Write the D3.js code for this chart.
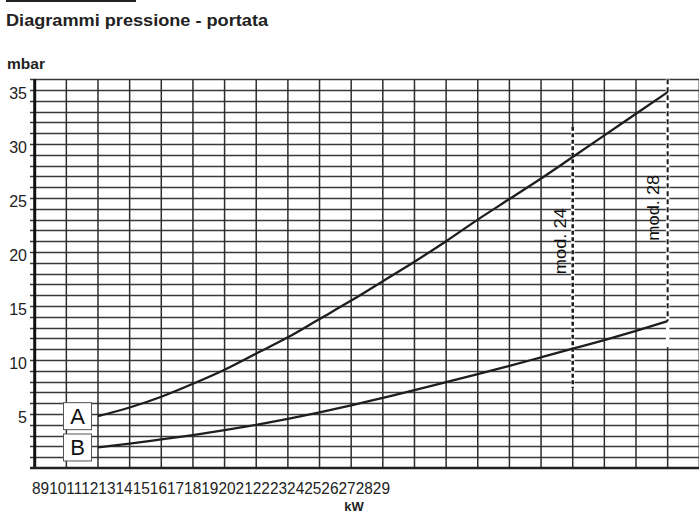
<!DOCTYPE html>
<html>
<head>
<meta charset="utf-8">
<script src="https://cdn.jsdelivr.net/npm/d3@7"></script>
<style>
  body { margin: 0; background: #fff; }
  svg { display: block; font-family: "Liberation Sans", Arial, sans-serif; }
</style>
</head>
<body>
<div id="chart"></div>
<script>
// data
var kw = [10, 11, 12, 13, 14, 15, 16, 17, 18, 19, 20, 21, 22, 23, 24, 25, 26, 27, 28];
var curveA = [4.8, 5.6, 6.6, 7.8, 9.1, 10.6, 12.1, 13.8, 15.5, 17.3, 19.1, 21.0, 23.0, 24.9, 26.8, 28.8, 30.8, 32.8, 34.8];
var curveB = [1.9, 2.25, 2.65, 3.05, 3.5, 4.0, 4.55, 5.15, 5.8, 6.5, 7.2, 7.95, 8.7, 9.45, 10.25, 11.05, 11.85, 12.7, 13.6];
var yTicks = [5, 10, 15, 20, 25, 30, 35];
var xTicks = [8, 9, 10, 11, 12, 13, 14, 15, 16, 17, 18, 19, 20, 21, 22, 23, 24, 25, 26, 27, 28, 29];
var mods = ["mod. 24", "mod. 28"];
var modKw = [25, 28];
var modFrom = [7.4, 13.6];   // mbar where dashed line ends (bottom)
var modTo = [31.6, 36];      // mbar where dashed line starts (top)
var modLabelAt = [21.0, 24.1];

var W = 699, H = 515;
var svg = d3.select("div#chart").append("svg").attr("width", W).attr("height", H);

var x = d3.scaleLinear().domain([8, 29]).range([34.7, 699.3]);
var y = d3.scaleLinear().domain([0, 36]).range([468, 79.2]);

// little bar on top + title
svg.append("rect").attr("x", 6).attr("y", 0).attr("width", 130).attr("height", 2).attr("fill", "#222");
svg.append("text").attr("x", 6).attr("y", 26)
  .attr("textLength", 262).attr("lengthAdjust", "spacingAndGlyphs")
  .style("font-size", "16px").style("font-weight", "bold")
  .attr("fill", "#222").text("Diagrammi pressione - portata");
svg.append("text").attr("x", 7).attr("y", 69)
  .attr("textLength", 38).attr("lengthAdjust", "spacingAndGlyphs")
  .style("font-size", "14px").style("font-weight", "bold")
  .attr("fill", "#222").text("mbar");

// horizontal grid (every mbar)
var hy = d3.range(1, 37);
svg.selectAll(".hgrid").data(hy).enter().append("line")
  .attr("class", "hgrid")
  .attr("x1", 30).attr("x2", W)
  .attr("y1", function(d) { return Math.round(y(d)) + 0.5; })
  .attr("y2", function(d) { return Math.round(y(d)) + 0.5; })
  .attr("stroke", "#3a3a3a").attr("stroke-width", 1.4);

// vertical grid (every kW)
var vx = d3.range(9, 30);
svg.selectAll(".vgrid").data(vx).enter().append("line")
  .attr("class", "vgrid")
  .attr("x1", function(d) { return x(d); }).attr("x2", function(d) { return x(d); })
  .attr("y1", y(36)).attr("y2", y(0))
  .attr("stroke", "#2e2e2e").attr("stroke-width", 1.5);

// mod lines: white knockout then dashes
mods.forEach(function(m, i) {
  svg.append("line")
    .attr("x1", x(modKw[i])).attr("x2", x(modKw[i]))
    .attr("y1", y(modTo[i])).attr("y2", y(modFrom[i]) + (i == 1 ? 26 : 0))
    .attr("stroke", "#fff").attr("stroke-width", 3.5);
  svg.append("line")
    .attr("x1", x(modKw[i])).attr("x2", x(modKw[i]))
    .attr("y1", y(modTo[i])).attr("y2", y(modFrom[i]))
    .attr("stroke", "#1a1a1a").attr("stroke-width", i == 0 ? 2.5 : 2)
    .attr("stroke-dasharray", i == 0 ? "4,2.5" : "5,3");
  svg.append("text")
    .attr("transform", "translate(" + (x(modKw[i]) - (i == 0 ? 7 : 9)) + "," + y(modLabelAt[i]) + ") rotate(-90)")
    .attr("text-anchor", "middle")
    .attr("textLength", 66).attr("lengthAdjust", "spacingAndGlyphs")
    .style("font-size", "17px")
    .attr("fill", "#111")
    .text(m);
});

// axes lines
svg.append("line").attr("x1", x(8)).attr("x2", x(8)).attr("y1", y(36)).attr("y2", y(0) + 1)
  .attr("stroke", "#111").attr("stroke-width", 3);
svg.append("line").attr("x1", 30).attr("x2", W).attr("y1", y(0)).attr("y2", y(0))
  .attr("stroke", "#222").attr("stroke-width", 2.5);

// y labels
svg.selectAll(".ylab").data(yTicks).enter().append("text")
  .attr("class", "ylab")
  .attr("x", 27).attr("y", function(d) { return y(d) + 9; })
  .attr("text-anchor", "end")
  .style("font-size", "16px").attr("fill", "#222")
  .text(function(d) { return d; });

// x labels (all squeezed together like the original)
svg.append("text").attr("x", 32).attr("y", 494)
  .attr("textLength", 358).attr("lengthAdjust", "spacingAndGlyphs")
  .style("font-size", "16px").attr("fill", "#222")
  .text(xTicks.join(""));
svg.append("text").attr("x", 354).attr("y", 511).attr("text-anchor", "middle")
  .style("font-size", "13px").style("font-weight", "bold").attr("fill", "#222").text("kW");

// curves
var line = d3.line()
  .x(function(d) { return x(d[0]); })
  .y(function(d) { return y(d[1]); })
  .curve(d3.curveMonotoneX);

[curveA, curveB].forEach(function(c) {
  svg.append("path")
    .datum(kw.map(function(k, i) { return [k, c[i]]; }))
    .attr("d", line)
    .attr("fill", "none").attr("stroke", "#1e1e1e").attr("stroke-width", 2.3);
});

// A / B boxes
var boxes = [["A", curveA[0]], ["B", curveB[0]]];
boxes.forEach(function(b) {
  svg.append("rect")
    .attr("x", 63.5).attr("y", y(b[1]) - 13.5)
    .attr("width", 28).attr("height", 27)
    .attr("fill", "#fff").attr("stroke", "#555").attr("stroke-width", 1);
  svg.append("text")
    .attr("x", 77.5).attr("y", y(b[1]) + 8)
    .attr("text-anchor", "middle")
    .style("font-size", "22px").attr("fill", "#111")
    .text(b[0]);
});
</script>
</body>
</html>
